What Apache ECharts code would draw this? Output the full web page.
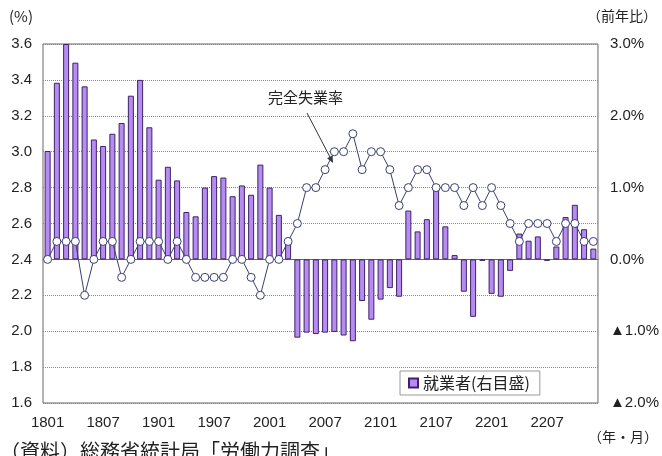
<!DOCTYPE html>
<html>
<head>
<meta charset="utf-8">
<script src="https://cdn.jsdelivr.net/npm/echarts@6/dist/echarts.min.js"></script>
<style>
  html, body { margin: 0; padding: 0; background: #fff; }
  #chart { width: 662px; height: 456px; }
</style>
</head>
<body>
<div id="chart"></div>
<script>
const months = [
  '1801','1802','1803','1804','1805','1806','1807','1808','1809','1810','1811','1812',
  '1901','1902','1903','1904','1905','1906','1907','1908','1909','1910','1911','1912',
  '2001','2002','2003','2004','2005','2006','2007','2008','2009','2010','2011','2012',
  '2101','2102','2103','2104','2105','2106','2107','2108','2109','2110','2111','2112',
  '2201','2202','2203','2204','2205','2206','2207','2208','2209','2210','2211','2212'
];

// 完全失業率 (%)
const unemploymentRate = [
  2.4, 2.5, 2.5, 2.5, 2.2, 2.4, 2.5, 2.5, 2.3, 2.4, 2.5, 2.5,
  2.5, 2.4, 2.5, 2.4, 2.3, 2.3, 2.3, 2.3, 2.4, 2.4, 2.3, 2.2,
  2.4, 2.4, 2.5, 2.6, 2.8, 2.8, 2.9, 3.0, 3.0, 3.1, 2.9, 3.0,
  3.0, 2.9, 2.7, 2.8, 2.9, 2.9, 2.8, 2.8, 2.8, 2.7, 2.8, 2.7,
  2.8, 2.7, 2.6, 2.5, 2.6, 2.6, 2.6, 2.5, 2.6, 2.6, 2.5, 2.5
];

// 就業者 前年比 (%)
const employedYoY = [
  1.51, 2.46, 3.0, 2.74, 2.41, 1.67, 1.58, 1.75, 1.90, 2.28, 2.50, 1.84,
  1.11, 1.29, 1.10, 0.66, 0.60, 1.00, 1.16, 1.14, 0.88, 1.03, 0.90, 1.32,
  1.00, 0.62, 0.23, -1.09, -1.02, -1.04, -1.02, -1.01, -1.06, -1.14, -0.58, -0.84,
  -0.56, -0.40, -0.52, 0.68, 0.39, 0.56, 1.00, 0.46, 0.06, -0.45, -0.80, -0.02,
  -0.48, -0.52, -0.16, 0.36, 0.26, 0.32, -0.02, 0.18, 0.59, 0.76, 0.42, 0.15
];

const numFont = '"Liberation Sans Narrow", "Liberation Sans", Arial, sans-serif';
const jpFont = '"Noto Sans CJK JP", sans-serif';

let chart = echarts.init(document.getElementById('chart'));

let option = {
  animation: false,
  backgroundColor: '#fff',
  grid: {
    left: 43,
    right: 51,
    top: 44,
    bottom: 53,
    show: true,
    borderColor: '#666',
    borderWidth: 1
  },
  legend: {
    data: ['就業者(右目盛)'],
    left: 400,
    top: 371,
    icon: 'rect',
    itemWidth: 9,
    itemHeight: 9,
    itemGap: 4,
    padding: [4, 10, 4, 8],
    backgroundColor: '#fff',
    borderColor: '#999',
    borderWidth: 1,
    borderRadius: 0,
    textStyle: { fontFamily: jpFont, fontSize: 16, color: '#222' }
  },
  xAxis: {
    type: 'category',
    data: months,
    boundaryGap: true,
    axisLine: { lineStyle: { color: '#666' } },
    axisTick: { inside: true, length: 4, interval: 0, lineStyle: { color: '#666' } },
    axisLabel: {
      interval: 5,
      margin: 12,
      fontFamily: numFont,
      fontSize: 15,
      color: '#222'
    },
    splitLine: { show: false }
  },
  yAxis: [
    {
      type: 'value',
      min: 1.6,
      max: 3.6,
      interval: 0.2,
      axisLine: { show: false },
      axisTick: { show: false },
      axisLabel: {
        margin: 11,
        fontFamily: numFont,
        fontSize: 15,
        color: '#222',
        formatter: (v) => v.toFixed(1)
      },
      splitLine: { lineStyle: { color: '#888', type: 'dotted' } }
    },
    {
      type: 'value',
      min: -2,
      max: 3,
      interval: 1,
      axisLine: { show: false },
      axisTick: { show: false },
      axisLabel: {
        margin: 12,
        fontFamily: numFont,
        fontSize: 15,
        color: '#222',
        formatter: (v) => v < 0 ? '▲' + Math.abs(v).toFixed(1) + '%' : v.toFixed(1) + '%'
      },
      splitLine: { show: false }
    }
  ],
  series: [
    {
      name: '就業者(右目盛)',
      type: 'bar',
      yAxisIndex: 1,
      data: employedYoY,
      barWidth: 6,
      clip: true,
      itemStyle: {
        color: '#b68cf2',
        borderColor: '#3d2266',
        borderWidth: 1
      },
      z: 2
    },
    {
      name: '完全失業率',
      type: 'line',
      yAxisIndex: 0,
      data: unemploymentRate,
      symbol: 'circle',
      symbolSize: 8,
      showSymbol: true,
      showAllSymbol: true,
      lineStyle: { color: '#3b3f6e', width: 1 },
      itemStyle: { color: '#fff', borderColor: '#3b3f6e', borderWidth: 1 },
      z: 3
    }
  ],
  graphic: [
    {
      type: 'text', left: 9, top: 9,
      style: { text: '(%)', font: '15px ' + jpFont, fill: '#222' }
    },
    {
      type: 'text', right: 5, top: 9,
      style: { text: '（前年比）', font: '14px ' + jpFont, fill: '#222' }
    },
    {
      type: 'text', left: 588, top: 430,
      style: { text: '（年・月）', font: '14px ' + jpFont, fill: '#222' }
    },
    {
      type: 'text', left: 0, top: 441,
      style: { text: '（資料）総務省統計局「労働力調査」', font: '20px ' + jpFont, fill: '#222' }
    },
    {
      type: 'text', left: 268, top: 90,
      style: { text: '完全失業率', font: '15px ' + jpFont, fill: '#222' }
    },
    {
      type: 'line',
      shape: { x1: 307, y1: 113, x2: 331, y2: 159 },
      style: { stroke: '#333', lineWidth: 1 }
    },
    {
      type: 'polygon',
      shape: { points: [[333, 163], [332.5, 155.4], [327.1, 158.2]] },
      style: { fill: '#333' }
    }
  ]
};

chart.setOption(option);
</script>
</body>
</html>
